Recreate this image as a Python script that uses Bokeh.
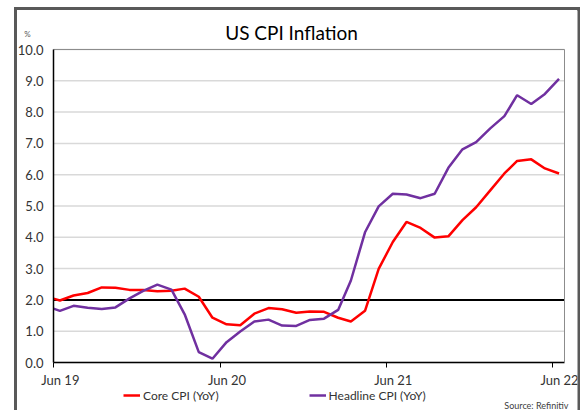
import numpy as np
import pandas as pd
from bokeh.plotting import figure
from bokeh.models import (Range1d, FixedTicker, Label, Legend, LegendItem, LinearAxis,
                          DatetimeTickFormatter, PrintfTickFormatter)
from bokeh.embed import file_html
from bokeh.resources import INLINE

# ---- data (monthly, Jun 2019 .. Jun 2022) ----
months = pd.date_range("2019-06-01", "2022-06-01", freq="MS")
headline_cpi = [1.65, 1.81, 1.75, 1.71, 1.76, 2.05, 2.29,
                2.49, 2.33, 1.54, 0.33, 0.12, 0.65, 0.99, 1.31, 1.37, 1.18, 1.17, 1.36,
                1.40, 1.68, 2.62, 4.16, 4.99, 5.39, 5.37, 5.25, 5.39, 6.22, 6.81, 7.04,
                7.48, 7.87, 8.54, 8.26, 8.58, 9.06]
core_cpi = [1.98, 2.14, 2.22, 2.40, 2.39, 2.32, 2.32,
            2.28, 2.29, 2.36, 2.10, 1.43, 1.22, 1.19, 1.56, 1.74, 1.70, 1.59, 1.63,
            1.62, 1.43, 1.31, 1.65, 2.99, 3.85, 4.49, 4.30, 3.99, 4.03, 4.55, 4.96,
            5.50, 6.04, 6.44, 6.49, 6.20, 6.04]
# where each line meets the y axis (left edge of the plot)
headline_at_axis = 1.72
core_at_axis = 2.04
target = 2.0
tick_years = [2019, 2020, 2021, 2022]
tick_labels = ["Jun 19", "Jun 20", "Jun 21", "Jun 22"]
y_ticks = list(range(0, 11))
y_min, y_max = 0, 10

x_axis_start = pd.Timestamp("2019-06-01")
x_axis_end = pd.Timestamp("2022-06-27")

# points plotted mid-month; lines start at the y axis
x = [x_axis_start] + list(months + pd.Timedelta(days=14))
core_y = [core_at_axis] + core_cpi
head_y = [headline_at_axis] + headline_cpi

def ms(ts):
    return int(pd.Timestamp(ts).value // 10**6)

tick_pos = [ms(f"{y}-06-01") for y in tick_years]
label_pos = [ms(f"{y}-06-16") for y in tick_years]

FONT = "Lato"
TXT = "#333333"
BORDER = "#8c8c8c"

# Geometry: the plot frame covers the whole chart panel so that titles, axis
# labels, legend and source note (all drawn inside it) are never clipped.
PLOT_W = 511                 # px between y axis and right border
PX_PER_DAY = PLOT_W / (x_axis_end - x_axis_start).days
PAD_L, PAD_R = 36, 13        # px of frame left of the y axis / right of the border
PX_PER_UNIT = 31.3
PAD_T, PAD_B = 39, 48        # px of frame above 10.0 / below 0.0
FRAME_H = int(round((y_max - y_min) * PX_PER_UNIT)) + PAD_T + PAD_B
y_lo = y_min - PAD_B / PX_PER_UNIT
y_hi = y_max + PAD_T / PX_PER_UNIT
x_lo = x_axis_start - pd.Timedelta(days=PAD_L / PX_PER_DAY)
x_hi = x_axis_end + pd.Timedelta(days=PAD_R / PX_PER_DAY)

p = figure(frame_width=PLOT_W + PAD_L + PAD_R, frame_height=FRAME_H,
           min_border_left=17, min_border_right=8, min_border_top=10, min_border_bottom=0,
           x_axis_type="datetime", output_backend="svg", toolbar_location=None,
           x_range=Range1d(x_lo, x_hi), y_range=Range1d(y_lo, y_hi))
p.background_fill_color = "white"
p.border_fill_alpha = 0
p.outline_line_color = None
p.title.visible = False
# outer chart frame (dark grey rule around the whole chart)
p.styles = {"box-shadow": ("inset 14px 0 0 0 white, inset 0 7px 0 0 white, "
                           "inset -5px 0 0 0 white, inset 17px 0 0 0 #595959, "
                           "inset 0 10px 0 0 #595959, inset -8px 0 0 0 #595959")}

yax = p.yaxis[0]
xax = p.xaxis[0]
p.xgrid.grid_line_color = None
p.ygrid.grid_line_color = None

# horizontal gridlines, limited to the plot area
p.segment(x0=[x_axis_start] * len(y_ticks), x1=[x_axis_end] * len(y_ticks),
          y0=y_ticks, y1=y_ticks, line_color="#d9d9d9", line_width=1.5)

# y axis at the start of the x axis
yax.axis_label = None
yax.fixed_location = ms(x_axis_start)
yax.bounds = (y_min, y_max)
yax.ticker = FixedTicker(ticks=y_ticks)
yax.formatter = PrintfTickFormatter(format="%.1f")
yax.major_tick_out = 0
yax.major_tick_in = 0
yax.minor_tick_out = 0
yax.minor_tick_in = 0
yax.axis_line_color = "black"
yax.axis_line_width = 1.5
yax.major_label_standoff = 10
yax.major_label_text_font = FONT
yax.major_label_text_font_size = "13px"
yax.major_label_text_color = TXT

# x axis at y = 0: labels mid-June, tick marks at start of June
xax.axis_label = None
xax.fixed_location = y_min
xax.bounds = (ms(x_axis_start), ms(x_axis_end))
xax.ticker = FixedTicker(ticks=label_pos, minor_ticks=tick_pos)
xax.formatter = DatetimeTickFormatter(years="%b %y", months="%b %y", days="%b %y")
xax.major_label_overrides = {lp: lab for lp, lab in zip(label_pos, tick_labels)}
xax.major_tick_out = 0
xax.major_tick_in = 0
xax.minor_tick_out = 5
xax.minor_tick_in = 0
xax.minor_tick_line_color = "black"
xax.minor_tick_line_width = 1
xax.axis_line_color = "black"
xax.axis_line_width = 1.5
xax.major_label_standoff = 4
xax.major_label_text_font = FONT
xax.major_label_text_font_size = "13px"
xax.major_label_text_color = TXT

# plot-area border: top and right rules
top_rule = LinearAxis(fixed_location=y_max, bounds=(ms(x_axis_start), ms(x_axis_end)),
                      ticker=FixedTicker(ticks=[]),
                      axis_line_color=BORDER, axis_line_width=1,
                      major_tick_out=0, major_tick_in=0, minor_tick_out=0, minor_tick_in=0,
                      major_label_text_font_size="0px")
p.add_layout(top_rule, "above")
right_rule = LinearAxis(fixed_location=ms(x_axis_end), bounds=(y_min, y_max),
                        ticker=FixedTicker(ticks=[]),
                        axis_line_color=BORDER, axis_line_width=1,
                        major_tick_out=0, major_tick_in=0, minor_tick_out=0, minor_tick_in=0,
                        major_label_text_font_size="0px")
p.add_layout(right_rule, "right")

# 2% target line across the plot area
p.segment(x0=[x_axis_start], x1=[x_axis_end], y0=[target], y1=[target],
          line_color="black", line_width=2)

r_core = p.line(x, core_y, line_color="#ff0000", line_width=2.5)
r_head = p.line(x, head_y, line_color="#7030a0", line_width=2.5)

legend = Legend(items=[LegendItem(label="Core CPI (YoY)", renderers=[r_core]),
                       LegendItem(label="Headline CPI (YoY)", renderers=[r_head])],
                location=(106, 7), orientation="horizontal",
                border_line_alpha=0, background_fill_alpha=0,
                padding=0, margin=0, spacing=90,
                glyph_width=17, glyph_height=16, label_standoff=3,
                label_height=16,
                label_text_font=FONT, label_text_font_size="12px",
                label_text_color=TXT)
p.add_layout(legend)

# chart title (frame-relative screen coordinates, origin bottom-left)
p.add_layout(Label(x=274, y=FRAME_H - 22, x_units="screen", y_units="screen",
                   text="US CPI Inflation", text_align="center", text_baseline="middle",
                   text_font=FONT, text_font_size="19px", text_color="black"))

# small unit marker above the y axis
p.add_layout(Label(x=10, y=FRAME_H - 23, x_units="screen", y_units="screen",
                   text="%", text_align="center", text_baseline="middle",
                   text_font=FONT, text_font_size="8px", text_color="#595959"))

# source note
p.add_layout(Label(x=551, y=5, x_units="screen", y_units="screen",
                   text="Source: Refinitiv", text_align="right", text_baseline="middle",
                   text_font=FONT, text_font_size="9px", text_color="#404040"))

open("out.html", "w").write(file_html(p, INLINE))
